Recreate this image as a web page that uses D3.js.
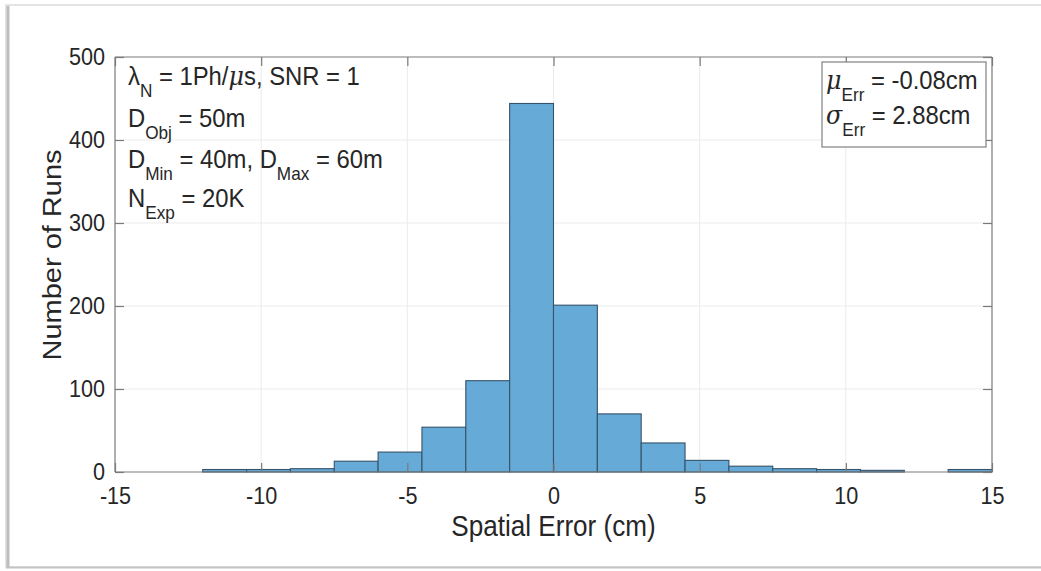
<!DOCTYPE html>
<html>
<head>
<meta charset="utf-8">
<script src="https://cdn.jsdelivr.net/npm/d3@7"></script>
<style>
  html, body { margin: 0; padding: 0; background: #ffffff; }
  svg { display: block; }
  text { font-family: "Liberation Sans", Arial, Helvetica, sans-serif; fill: #262626; }
</style>
</head>
<body>
<svg id="chart" width="1041" height="571"></svg>
<script>
// Histogram of spatial error: left bin edges (cm), bin width and counts
const binLeft  = [-12, -10.5, -9, -7.5, -6, -4.5, -3, -1.5, 0, 1.5, 3, 4.5, 6, 7.5, 9, 10.5, 12, 13.5];
const binWidth = 1.5;
const counts   = [3, 3, 4, 13, 24, 54, 110, 444, 201, 70, 35, 14, 7, 4, 3, 2, 0, 3];

const xTicks = [-15, -10, -5, 0, 5, 10, 15];
const yTicks = [0, 100, 200, 300, 400, 500];

const xLabel = "Spatial Error (cm)";
const yLabel = "Number of Runs";

const svg = d3.select("#chart");
const W = 1041;
const SX = 0.9; // horizontal text compression of the figure export

// outer panel frame with a soft left shadow
svg.append("rect").attr("x", 6).attr("y", 5).attr("width", W).attr("height", 562)
  .attr("fill", "#fff").attr("stroke", "#dcdcdc").attr("stroke-width", 1.5);
svg.append("line").attr("x1", 8).attr("x2", 8).attr("y1", 6).attr("y2", 567)
  .attr("stroke", "#bdbdbd").attr("stroke-width", 3);
svg.append("line").attr("x1", 6).attr("x2", W).attr("y1", 567.5).attr("y2", 567.5)
  .attr("stroke", "#c4c4c4").attr("stroke-width", 2);

const plot = { left: 115, right: 992, top: 57, bottom: 472 };

const x = d3.scaleLinear().domain([-15, 15]).range([plot.left, plot.right]);
const y = d3.scaleLinear().domain([0, 500]).range([plot.bottom, plot.top]);

// grid
const grid = svg.append("g");
grid.selectAll("line.gx").data(xTicks.slice(1, -1)).join("line")
  .attr("x1", d => x(d)).attr("x2", d => x(d))
  .attr("y1", plot.top).attr("y2", plot.bottom)
  .attr("stroke", "#ebebeb").attr("stroke-width", 1);
grid.selectAll("line.gy").data(yTicks.slice(1, -1)).join("line")
  .attr("x1", plot.left).attr("x2", plot.right)
  .attr("y1", d => y(d)).attr("y2", d => y(d))
  .attr("stroke", "#ebebeb").attr("stroke-width", 1);

// bars
const bins = binLeft.map((b, i) => ({ x0: b, x1: b + binWidth, n: counts[i] }));
svg.append("g").selectAll("rect").data(bins.filter(d => d.n > 0)).join("rect")
  .attr("x", d => x(d.x0))
  .attr("width", d => x(d.x1) - x(d.x0))
  .attr("y", d => y(d.n))
  .attr("height", d => y(0) - y(d.n))
  .attr("fill", "#66aad7")
  .attr("stroke", "#35536b")
  .attr("stroke-width", 1.1);

// axes (box with inward ticks)
const tickLen = 9;
const axisColor = "#7a7a7a";
const tickFont = 24;
const fmt = d => String(d);
const bottomAxis = d3.axisBottom(x).tickValues(xTicks).tickSize(-tickLen).tickPadding(15).tickFormat(fmt);
const topAxis = d3.axisTop(x).tickValues(xTicks).tickSize(-tickLen).tickFormat("");
const leftAxis = d3.axisLeft(y).tickValues(yTicks).tickSize(-tickLen).tickPadding(10).tickFormat(fmt);
const rightAxis = d3.axisRight(y).tickValues(yTicks).tickSize(-tickLen).tickFormat("");

function style(g) {
  g.attr("font-size", tickFont).attr("font-family", '"Liberation Sans", Arial, sans-serif');
  g.select(".domain").attr("stroke", axisColor).attr("stroke-width", 1.2);
  g.selectAll(".tick line").attr("stroke", axisColor).attr("stroke-width", 1.2);
  g.selectAll(".tick text").attr("fill", "#262626")
    .each(function () {
      const t = d3.select(this);
      const x0 = +t.attr("x") || 0;
      t.attr("x", x0 / SX).attr("transform", `scale(${SX},1)`);
    });
}
const ax = svg.append("g");
ax.append("g").attr("transform", `translate(0,${plot.bottom})`).call(bottomAxis).call(style)
  .call(g => g.select(".domain").attr("d", `M${plot.left},0H${plot.right}`));
ax.append("g").attr("transform", `translate(0,${plot.top})`).call(topAxis).call(style)
  .call(g => g.select(".domain").attr("d", `M${plot.left},0H${plot.right}`));
ax.append("g").attr("transform", `translate(${plot.left},0)`).call(leftAxis).call(style)
  .call(g => g.select(".domain").attr("d", `M0,${plot.top}V${plot.bottom}`));
ax.append("g").attr("transform", `translate(${plot.right},0)`).call(rightAxis).call(style)
  .call(g => g.select(".domain").attr("d", `M0,${plot.top}V${plot.bottom}`));

// axis titles
svg.append("text").attr("transform", `translate(${(plot.left + plot.right) / 2},536) scale(${SX},1)`)
  .attr("text-anchor", "middle").style("font-size", "29px").text(xLabel);
svg.append("text").attr("transform", `translate(61,255) rotate(-90) scale(1,${SX})`)
  .attr("text-anchor", "middle").style("font-size", "29px").text(yLabel);

// annotation helper: runs of [text, isSubscript, isItalicSymbol]
function richText(px, py, runs, size) {
  const t = svg.append("text").attr("transform", `translate(${px},${py}) scale(${SX},1)`)
    .style("font-size", size + "px");
  let shift = 0;
  runs.forEach(([s, sub, italic]) => {
    const ts = t.append("tspan").text(s);
    if (sub && shift === 0) { ts.attr("dy", size * 0.44); shift = 1; }
    else if (!sub && shift === 1) { ts.attr("dy", -size * 0.44); shift = 0; }
    if (sub) ts.style("font-size", (size * 0.72) + "px");
    if (italic) ts.style("font-style", "italic").style("font-family", '"DejaVu Serif", "Liberation Serif", serif');
  });
  return t;
}

const fs = 26.5;
richText(128, 85, [["λ", false], ["N", true], [" = 1Ph/", false], ["μ", false, true], ["s, SNR = 1", false]], fs);
richText(128, 127, [["D", false], ["Obj", true], [" = 50m", false]], fs);
richText(128, 168, [["D", false], ["Min", true], [" = 40m, D", false], ["Max", true], [" = 60m", false]], fs);
richText(128, 207, [["N", false], ["Exp", true], [" = 20K", false]], fs);

// statistics box
svg.append("rect").attr("x", 822).attr("y", 62).attr("width", 164).attr("height", 85)
  .attr("fill", "#fff").attr("stroke", "#808080").attr("stroke-width", 1.2);
richText(826, 89, [["μ", false, true], ["Err", true], [" = -0.08cm", false]], fs);
richText(826, 124, [["σ", false, true], ["Err", true], [" = 2.88cm", false]], fs);
</script>
</body>
</html>
